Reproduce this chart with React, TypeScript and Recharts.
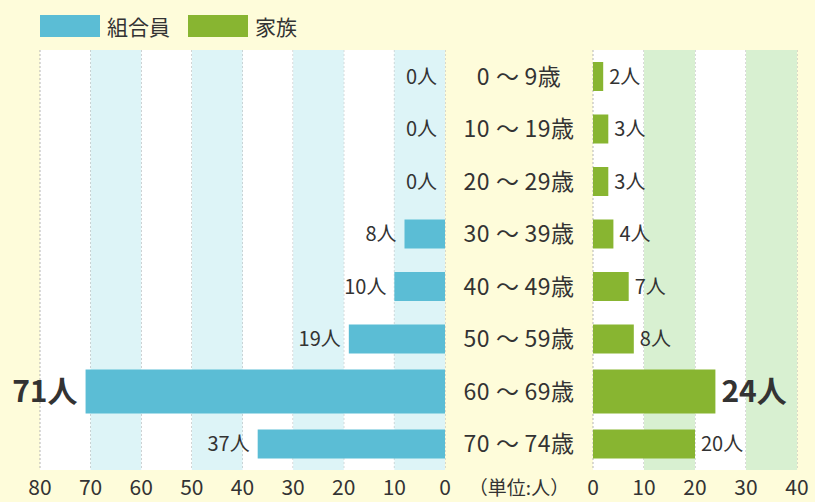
import { BarChart, Bar, XAxis, YAxis, CartesianGrid, ReferenceArea, LabelList } from 'recharts';

const ages = ['0～9歳', '10～19歳', '20～29歳', '30～39歳', '40～49歳', '50～59歳', '60～69歳', '70～74歳'];
const members = [0, 0, 0, 8, 10, 19, 71, 37];
const family = [2, 3, 3, 4, 7, 8, 24, 20];
const highlight = ['60～69歳'];
const leftTicks = [0, 10, 20, 30, 40, 50, 60, 70, 80];
const rightTicks = [0, 10, 20, 30, 40];
const leftBands = [[0, 10], [20, 30], [40, 50], [60, 70]];
const rightBands = [[10, 20], [30, 40]];

const data = ages.map((age, i) => ({ age, members: members[i], family: family[i] }));

const FONT = '"Noto Sans CJK JP", "Noto Sans", sans-serif';
const BLUE = '#5bbdd5';
const GREEN = '#88b531';
const TEXT = '#333';

// 60～69歳 bar is drawn thicker than the rest
const barShape = (props: any) => {
  const { x, y, width, height, payload, fill } = props;
  const big = highlight.includes(payload.age);
  const h = big ? 44 : height;
  return (
    <rect
      x={Math.min(x, x + width)}
      y={y + height / 2 - h / 2}
      width={Math.abs(width)}
      height={h}
      fill={fill}
    />
  );
};

const makeLabel = (side: 'left' | 'right') => (p: any) => {
  const { x, y, width, height, value, index } = p;
  const big = highlight.includes(ages[index]);
  const left = Math.min(x, x + width);
  const right = Math.max(x, x + width);
  const tx = side === 'left' ? left - 8 : right + 6;
  return (
    <text
      x={tx}
      y={y + height / 2}
      dy="0.36em"
      textAnchor={side === 'left' ? 'end' : 'start'}
      fontSize={big ? 30 : 20}
      fontWeight={big ? 'bold' : 'normal'}
      fill={TEXT}
      fontFamily={FONT}
    >
      {value}人
    </text>
  );
};

// age label with a little air around the tilde
const AgeTick = ({ y, payload }: any) => {
  const [from, to] = String(payload.value).split('～');
  return (
    <text x={74} y={y} dy="0.36em" textAnchor="middle" fontSize={23} letterSpacing={0.5} fill={TEXT} fontFamily={FONT}>
      <tspan>{from}</tspan>
      <tspan dx={6}>～</tspan>
      <tspan dx={5}>{to}</tspan>
    </text>
  );
};

const tickStyle = { fontSize: 21, fill: TEXT, fontFamily: FONT };

export default function App() {
  return (
    <div
      style={{
        position: 'absolute',
        left: 0,
        top: 0,
        width: 815,
        height: 502,
        background: '#fefcda',
        fontFamily: FONT,
        overflow: 'hidden',
      }}
    >
      {/* legend */}
      <div style={{ position: 'absolute', top: 11, left: 40, display: 'flex', alignItems: 'center', fontSize: 21, color: TEXT }}>
        <span style={{ display: 'inline-block', width: 60, height: 22, background: BLUE, marginRight: 7 }} />
        <span style={{ marginRight: 18 }}>組合員</span>
        <span style={{ display: 'inline-block', width: 60, height: 22, background: GREEN, marginRight: 7 }} />
        <span>家族</span>
      </div>

      <div style={{ position: 'absolute', left: 0, top: 0 }}>
        <BarChart
          width={460}
          height={502}
          data={data}
          layout="vertical"
          margin={{ top: 50, right: 15, bottom: 0, left: 40 }}
          barCategoryGap={0}
        >
          <CartesianGrid horizontal={false} fill="#fff" stroke="#b5b5b5" strokeDasharray="2 2" />
          {leftBands.map(([a, b]) => (
            <ReferenceArea key={a} x1={a} x2={b} fill="#ddf4f7" fillOpacity={1} stroke="none" />
          ))}
          <XAxis
            type="number"
            domain={[0, 80]}
            ticks={leftTicks}
            reversed
            height={32}
            axisLine={false}
            tickLine={false}
            tickMargin={4}
            tick={tickStyle}
            interval={0}
          />
          <YAxis type="category" dataKey="age" hide />
          <Bar dataKey="members" fill={BLUE} barSize={29} shape={barShape} isAnimationActive={false}>
            <LabelList dataKey="members" content={makeLabel('left')} />
          </Bar>
        </BarChart>
      </div>

      <div style={{ position: 'absolute', left: 445, top: 0 }}>
        <BarChart
          width={370}
          height={502}
          data={data}
          layout="vertical"
          margin={{ top: 50, right: 18, bottom: 0, left: 0 }}
          barCategoryGap={0}
        >
          <CartesianGrid horizontal={false} fill="#fff" stroke="#b5b5b5" strokeDasharray="2 2" />
          {rightBands.map(([a, b]) => (
            <ReferenceArea key={a} x1={a} x2={b} fill="#d8f0d1" fillOpacity={1} stroke="none" />
          ))}
          <XAxis
            type="number"
            domain={[0, 40]}
            ticks={rightTicks}
            height={32}
            axisLine={false}
            tickLine={false}
            tickMargin={4}
            tick={tickStyle}
            interval={0}
          />
          <YAxis
            type="category"
            dataKey="age"
            width={148}
            axisLine={false}
            tickLine={false}
            interval={0}
            tick={<AgeTick />}
          />
          <Bar dataKey="family" fill={GREEN} barSize={29} shape={barShape} isAnimationActive={false}>
            <LabelList dataKey="family" content={makeLabel('right')} />
          </Bar>
        </BarChart>
      </div>

      <div style={{ position: 'absolute', left: 445, width: 148, top: 473, textAlign: 'center', fontSize: 19, color: TEXT }}>
        （単位:人）
      </div>
    </div>
  );
}
